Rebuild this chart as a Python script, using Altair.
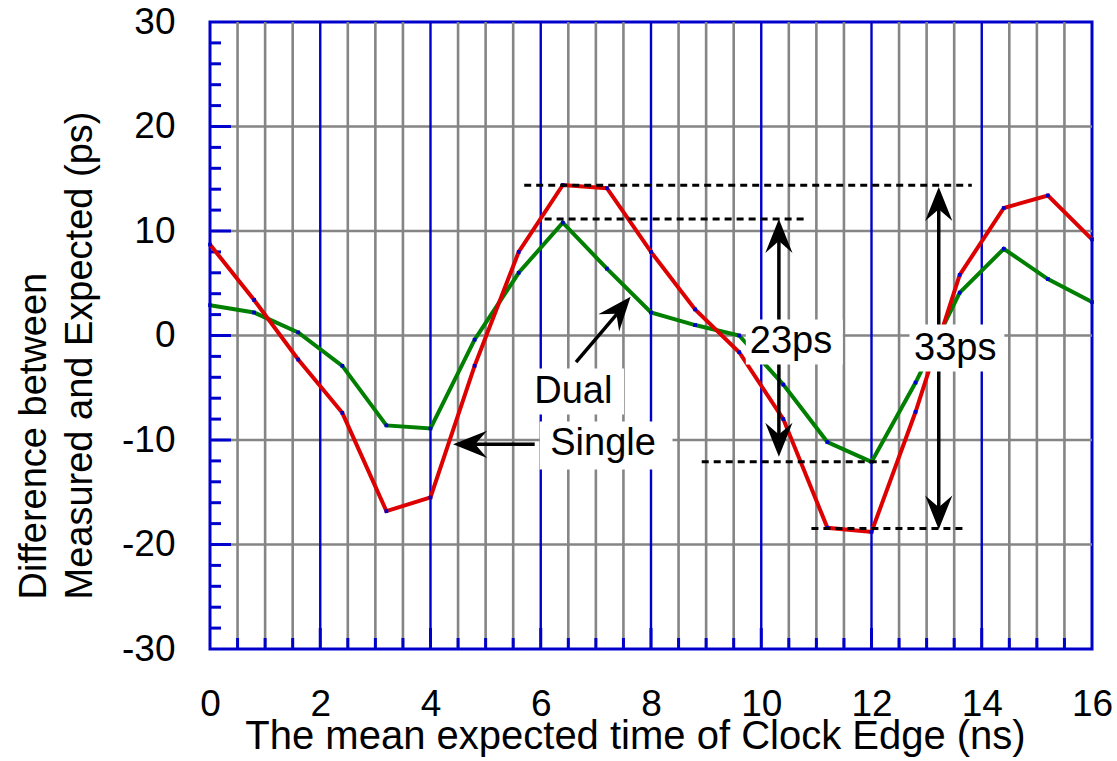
import altair as alt
import pandas as pd

# ---------------- data ----------------
time_ns = [0.0, 0.8, 1.6, 2.4, 3.2, 4.0, 4.8, 5.6, 6.4, 7.2, 8.0,
           8.8, 9.6, 10.4, 11.2, 12.0, 12.8, 13.6, 14.4, 15.2, 16.0]
single_ps = [8.7, 3.4, -2.3, -7.4, -16.8, -15.5, -2.9, 8.0, 14.4, 14.1, 8.0,
             2.5, -1.6, -8.0, -18.4, -18.8, -7.3, 5.8, 12.2, 13.4, 9.2]
dual_ps = [2.9, 2.2, 0.3, -2.9, -8.6, -8.9, -0.4, 6.0, 10.8, 6.4, 2.2,
           1.0, 0.0, -4.7, -10.2, -12.1, -4.5, 4.1, 8.3, 5.4, 3.2]

x_tick_values = [0, 2, 4, 6, 8, 10, 12, 14, 16]
y_tick_values = [-30, -20, -10, 0, 10, 20, 30]
minor_grid_ns = [0.5, 1, 1.5, 2.5, 3, 3.5, 4.5, 5, 5.5, 6.5, 7, 7.5, 8.5, 9, 9.5,
                 10.5, 11, 11.5, 12.5, 13, 13.5, 14.5, 15, 15.5]
major_grid_ns = [2, 4, 6, 8, 10, 12, 14]
hgrid_ps = [-20, -10, 0, 10, 20]
left_minor_ps = [-28, -26, -24, -22, -18, -16, -14, -12, -8, -6, -4, -2,
                 2, 4, 6, 8, 12, 14, 16, 18, 22, 24, 26, 28]

# dashed reference levels
dash_y = [14.38, 11.15, -12.09, -18.47]
dash_x1 = [5.70, 6.07, 8.92, 10.91]
dash_x2 = [13.82, 10.79, 12.38, 13.69]

# arrow shafts (start -> end) and heads (tip position, direction)
shaft_x1 = [10.32, 10.32, 13.22, 13.22, 6.64, 5.89]
shaft_y1 = [0.0, 0.0, 0.0, 0.0, -2.55, -10.41]
shaft_x2 = [10.32, 10.32, 13.22, 13.22, 7.55, 4.55]
shaft_y2 = [10.6, -11.1, 13.7, -18.0, 3.1, -10.41]
head_x = [10.32, 10.32, 13.22, 13.22, 7.63, 4.41]
head_y = [11.15, -11.6, 14.2, -18.56, 3.7, -10.41]
head_angle = [0, 180, 0, 180, 40, 270]

# annotation labels and their white boxes
label_text = ["23ps", "33ps", "Dual", "Single"]
label_x = [10.54, 13.52, 6.59, 7.13]
label_y = [-1.66, -2.36, -6.44, -11.39]
box_x1 = [9.72, 12.69, 5.83, 5.98]
box_x2 = [11.48, 14.41, 7.51, 8.39]
box_y1 = [1.53, 1.05, -3.16, -8.23]
box_y2 = [-2.78, -3.44, -7.56, -12.82]

# ---------------- styling ----------------
FONT = "Liberation Sans"
BLUE = "#0000CC"
GRAY = "#858585"
RED = "#DD0000"
GREEN = "#007F00"
W, H = 882, 627

xs = alt.Scale(domain=[0, 16], nice=False, zero=False)
ys = alt.Scale(domain=[-30, 30], nice=False, zero=False)

x_axis = alt.Axis(
    values=x_tick_values, title="The mean expected time of Clock Edge (ns)",
    grid=False, ticks=False, tickSize=0, domain=False,
    labelFont=FONT, labelFontSize=37, labelColor="black", labelPadding=66,
    labelBaseline="alphabetic", labelFlush=False, labelOverlap=False,
    labelExpr="datum.value + ''",
    titleFont=FONT, titleFontSize=40, titleFontWeight="normal", titleColor="black",
    titleX=425, titleY=99, titleAlign="center", titleBaseline="alphabetic",
)
y_axis = alt.Axis(
    values=y_tick_values, title=["Difference between", "Measured and Expected (ps)"],
    grid=False, ticks=False, tickSize=0, domain=False,
    labelFont=FONT, labelFontSize=37, labelColor="black", labelPadding=35,
    labelBaseline="middle", labelFlush=False, labelOverlap=False,
    labelExpr="datum.value + ''",
    titleFont=FONT, titleFontSize=38, titleFontWeight="normal", titleColor="black",
    titleAngle=270, titleAlign="left", titleBaseline="alphabetic",
    titleX=-165, titleY=577, titleLineHeight=46,
)


def X(field):
    return alt.X(field, scale=xs, axis=x_axis)


def Y(field):
    return alt.Y(field, scale=ys, axis=y_axis)


lines_df = pd.DataFrame({"t": time_ns, "single": single_ps, "dual": dual_ps})
minor_df = pd.DataFrame({"t": minor_grid_ns})
major_df = pd.DataFrame({"t": major_grid_ns})
hgrid_df = pd.DataFrame({"v": hgrid_ps})
lminor_df = pd.DataFrame({"v": left_minor_ps})
dash_df = pd.DataFrame({"y": dash_y, "x1": dash_x1, "x2": dash_x2})
shaft_df = pd.DataFrame({"x1": shaft_x1, "y1": shaft_y1, "x2": shaft_x2, "y2": shaft_y2})
head_df = pd.DataFrame({"x": head_x, "y": head_y, "a": head_angle})
label_df = pd.DataFrame({"x": label_x, "y": label_y, "text": label_text})
box_df = pd.DataFrame({"x1": box_x1, "x2": box_x2, "y1": box_y1, "y2": box_y2})

# grid
gray_v = alt.Chart(minor_df).mark_rule(color=GRAY, strokeWidth=2.6).encode(x=X("t:Q"))
gray_h = alt.Chart(hgrid_df).mark_rule(color=GRAY, strokeWidth=2.6).encode(y=Y("v:Q"))
blue_v = alt.Chart(major_df).mark_rule(color=BLUE, strokeWidth=2.4).encode(x=X("t:Q"))

# inward ticks
bot_minor = alt.Chart(minor_df).mark_rule(color=BLUE, strokeWidth=3).encode(
    x=X("t:Q"), y=alt.value(H), y2=alt.value(H - 11))
bot_major = alt.Chart(major_df).mark_rule(color=BLUE, strokeWidth=3).encode(
    x=X("t:Q"), y=alt.value(H), y2=alt.value(H - 21))
left_minor = alt.Chart(lminor_df).mark_rule(color=BLUE, strokeWidth=3).encode(
    y=Y("v:Q"), x=alt.value(0), x2=alt.value(11))
left_major = alt.Chart(hgrid_df).mark_rule(color=BLUE, strokeWidth=3).encode(
    y=Y("v:Q"), x=alt.value(0), x2=alt.value(21))

# data lines
dual_line = alt.Chart(lines_df).mark_line(color=GREEN, strokeWidth=4).encode(
    x=X("t:Q"), y=Y("dual:Q"))
single_line = alt.Chart(lines_df).mark_line(color=RED, strokeWidth=4).encode(
    x=X("t:Q"), y=Y("single:Q"))
dual_pts = alt.Chart(lines_df).mark_square(color=BLUE, size=14, opacity=1).encode(
    x=X("t:Q"), y=Y("dual:Q"))
single_pts = alt.Chart(lines_df).mark_square(color=BLUE, size=14, opacity=1).encode(
    x=X("t:Q"), y=Y("single:Q"))

# dashed levels
dashes = alt.Chart(dash_df).mark_rule(color="black", strokeWidth=3, strokeDash=[7, 5]).encode(
    x=X("x1:Q"), x2="x2:Q", y=Y("y:Q"))

# arrows
shafts = alt.Chart(shaft_df).mark_rule(color="black", strokeWidth=3.5).encode(
    x=X("x1:Q"), x2="x2:Q", y=Y("y1:Q"), y2="y2:Q")
ARROW = "M0,0L0.8,2L0,1.3L-0.8,2Z"
heads = alt.Chart(head_df).mark_point(shape=ARROW, filled=True, color="black",
                                       size=1156, opacity=1, strokeWidth=0).encode(
    x=X("x:Q"), y=Y("y:Q"), angle=alt.Angle("a:Q", scale=None))

# labels
boxes = alt.Chart(box_df).mark_rect(color="white", opacity=1).encode(
    x=X("x1:Q"), x2="x2:Q", y=Y("y1:Q"), y2="y2:Q")
labels = alt.Chart(label_df).mark_text(font=FONT, fontSize=38, color="black",
                                       align="center", baseline="alphabetic").encode(
    x=X("x:Q"), y=Y("y:Q"), text="text:N")

chart = alt.layer(
    gray_v, gray_h, blue_v, bot_minor, bot_major, left_minor, left_major,
    dual_line, single_line, dual_pts, single_pts, dashes, shafts, heads, boxes, labels,
).properties(
    width=W, height=H,
    autosize=alt.AutoSizeParams(type="none"),
    padding={"left": 210, "top": 22, "right": 25, "bottom": 112},
    background="white",
).configure_view(stroke=BLUE, strokeWidth=3)

chart.save("out.html", embed_options={"renderer": "svg", "actions": False})
